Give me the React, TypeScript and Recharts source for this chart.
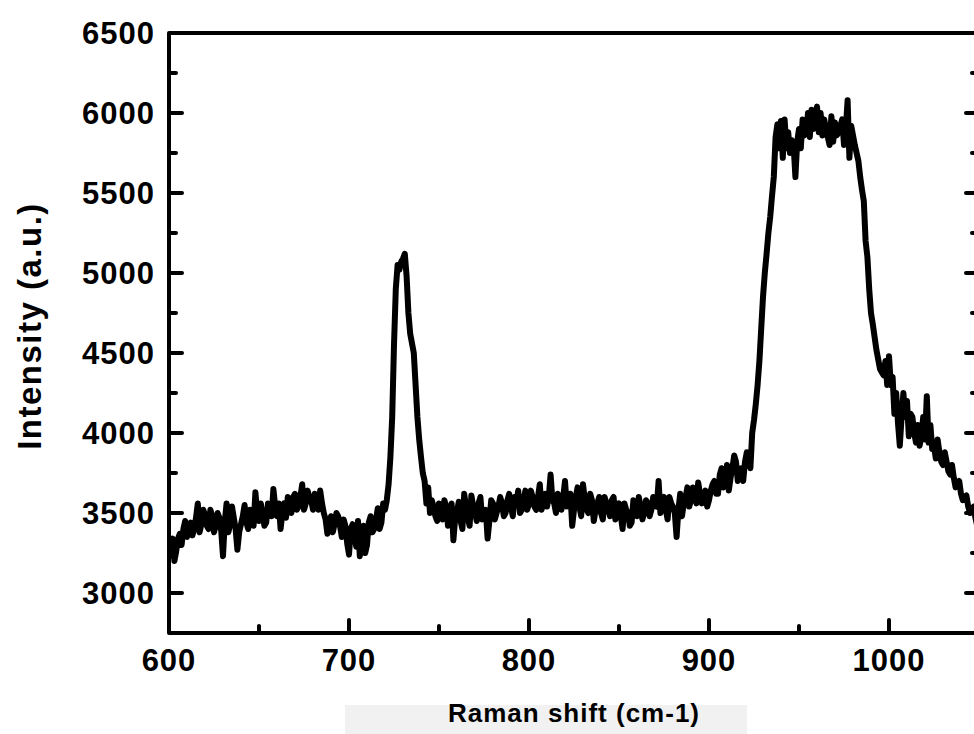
import { Label, Line, LineChart, XAxis, YAxis } from 'recharts';

// Raman spectrum (1 cm-1 steps)
const shift = [
  600, 601, 602, 603, 604, 605, 606, 607, 608, 609,
  610, 611, 612, 613, 614, 615, 616, 617, 618, 619,
  620, 621, 622, 623, 624, 625, 626, 627, 628, 629,
  630, 631, 632, 633, 634, 635, 636, 637, 638, 639,
  640, 641, 642, 643, 644, 645, 646, 647, 648, 649,
  650, 651, 652, 653, 654, 655, 656, 657, 658, 659,
  660, 661, 662, 663, 664, 665, 666, 667, 668, 669,
  670, 671, 672, 673, 674, 675, 676, 677, 678, 679,
  680, 681, 682, 683, 684, 685, 686, 687, 688, 689,
  690, 691, 692, 693, 694, 695, 696, 697, 698, 699,
  700, 701, 702, 703, 704, 705, 706, 707, 708, 709,
  710, 711, 712, 713, 714, 715, 716, 717, 718, 719,
  720, 721, 722, 723, 724, 725, 726, 727, 728, 729,
  730, 731, 732, 733, 734, 735, 736, 737, 738, 739,
  740, 741, 742, 743, 744, 745, 746, 747, 748, 749,
  750, 751, 752, 753, 754, 755, 756, 757, 758, 759,
  760, 761, 762, 763, 764, 765, 766, 767, 768, 769,
  770, 771, 772, 773, 774, 775, 776, 777, 778, 779,
  780, 781, 782, 783, 784, 785, 786, 787, 788, 789,
  790, 791, 792, 793, 794, 795, 796, 797, 798, 799,
  800, 801, 802, 803, 804, 805, 806, 807, 808, 809,
  810, 811, 812, 813, 814, 815, 816, 817, 818, 819,
  820, 821, 822, 823, 824, 825, 826, 827, 828, 829,
  830, 831, 832, 833, 834, 835, 836, 837, 838, 839,
  840, 841, 842, 843, 844, 845, 846, 847, 848, 849,
  850, 851, 852, 853, 854, 855, 856, 857, 858, 859,
  860, 861, 862, 863, 864, 865, 866, 867, 868, 869,
  870, 871, 872, 873, 874, 875, 876, 877, 878, 879,
  880, 881, 882, 883, 884, 885, 886, 887, 888, 889,
  890, 891, 892, 893, 894, 895, 896, 897, 898, 899,
  900, 901, 902, 903, 904, 905, 906, 907, 908, 909,
  910, 911, 912, 913, 914, 915, 916, 917, 918, 919,
  920, 921, 922, 923, 924, 925, 926, 927, 928, 929,
  930, 931, 932, 933, 934, 935, 936, 937, 938, 939,
  940, 941, 942, 943, 944, 945, 946, 947, 948, 949,
  950, 951, 952, 953, 954, 955, 956, 957, 958, 959,
  960, 961, 962, 963, 964, 965, 966, 967, 968, 969,
  970, 971, 972, 973, 974, 975, 976, 977, 978, 979,
  980, 981, 982, 983, 984, 985, 986, 987, 988, 989,
  990, 991, 992, 993, 994, 995, 996, 997, 998, 999,
  1000, 1001, 1002, 1003, 1004, 1005, 1006, 1007, 1008, 1009,
  1010, 1011, 1012, 1013, 1014, 1015, 1016, 1017, 1018, 1019,
  1020, 1021, 1022, 1023, 1024, 1025, 1026, 1027, 1028, 1029,
  1030, 1031, 1032, 1033, 1034, 1035, 1036, 1037, 1038, 1039,
  1040, 1041, 1042, 1043, 1044, 1045, 1046, 1047, 1048, 1049,
  1050,
];

const intensity = [
  3230, 3300, 3340, 3200, 3260, 3340, 3370, 3300, 3400, 3450,
  3350, 3420, 3440, 3360, 3400, 3470, 3560, 3380, 3430, 3520,
  3490, 3420, 3400, 3520, 3480, 3380, 3420, 3500, 3470, 3390,
  3230, 3450, 3560, 3380, 3430, 3540, 3470, 3400, 3270, 3380,
  3430, 3480, 3550, 3440, 3400, 3520, 3460, 3420, 3630, 3500,
  3450, 3560, 3490, 3420, 3440, 3560, 3520, 3480, 3650, 3540,
  3480, 3560, 3400, 3500, 3560, 3470, 3600, 3580, 3500, 3600,
  3620, 3520, 3540, 3600, 3680, 3520, 3560, 3640, 3600, 3580,
  3520, 3620, 3580, 3520, 3640, 3560, 3500, 3460, 3370, 3440,
  3480, 3380, 3430, 3500, 3480, 3420, 3350, 3460, 3420, 3310,
  3240, 3400, 3430, 3360, 3290, 3450, 3230, 3330, 3420, 3250,
  3300, 3440, 3480, 3380, 3400, 3460, 3530, 3400, 3440, 3560,
  3520, 3580, 3680, 3850, 4100, 4550, 4900, 5050, 5020, 5070,
  5090, 5120, 4980, 4750, 4620, 4560, 4500, 4300, 4100, 3960,
  3850, 3750, 3700, 3560, 3660, 3500, 3580, 3540, 3480, 3450,
  3560, 3500, 3460, 3580, 3540, 3420, 3480, 3560, 3330, 3470,
  3510, 3570, 3450, 3400, 3620, 3540, 3470, 3420, 3610, 3540,
  3500, 3450, 3560, 3600, 3460, 3480, 3520, 3340, 3450, 3580,
  3560, 3460, 3500, 3540, 3600, 3560, 3480, 3500, 3580, 3620,
  3540, 3480, 3600, 3560, 3640, 3500, 3520, 3580, 3640, 3520,
  3560, 3640, 3600, 3540, 3520, 3600, 3680, 3520, 3580, 3620,
  3540, 3600, 3740, 3580, 3560, 3500, 3620, 3580, 3520, 3600,
  3700, 3540, 3560, 3620, 3420, 3520, 3600, 3660, 3540, 3480,
  3680, 3580, 3520, 3500, 3620, 3580, 3450, 3520, 3560, 3600,
  3500, 3460, 3600, 3560, 3520, 3480, 3580, 3600, 3460, 3520,
  3560, 3480, 3400, 3560, 3520, 3500, 3420, 3440, 3580, 3540,
  3480, 3600, 3540, 3460, 3500, 3580, 3560, 3480, 3520, 3600,
  3580, 3540, 3700, 3500, 3580, 3600, 3520, 3460, 3600, 3560,
  3540, 3500, 3350, 3520, 3620, 3480, 3560, 3600, 3660, 3540,
  3580, 3660, 3620, 3560, 3690, 3620, 3560, 3600, 3640, 3540,
  3580, 3640, 3680, 3700, 3620, 3620, 3740, 3780, 3660, 3700,
  3800, 3640, 3720, 3780, 3860, 3820, 3700, 3740, 3780, 3700,
  3820, 3880, 3860, 3780, 4000, 4080, 4180, 4300, 4450, 4650,
  4850, 5000, 5120, 5250, 5350, 5480, 5600, 5850, 5930, 5780,
  5950, 5720, 5960, 5780, 5880, 5750, 5830, 5800, 5600, 5820,
  5900, 5780, 5960, 5860, 5880, 6000, 5850, 6020, 5900, 5960,
  6040, 5880, 6000, 5860, 5960, 5900, 5850, 5800, 5980, 5820,
  5940, 5860, 5880, 5920, 5960, 5800, 5900, 6080, 5720, 5920,
  5860, 5800, 5750, 5700, 5600, 5520, 5450, 5200, 5100, 4900,
  4750, 4680, 4600, 4520, 4460, 4400, 4380, 4360, 4450, 4300,
  4480, 4300, 4350, 4120, 4250, 4060, 3920, 4100, 4250, 4100,
  4200, 3980, 4120, 4100, 4000, 3940, 4050, 3920, 3980, 4100,
  3960, 4230, 3940, 4050, 3900, 3920, 3840, 3960, 3880, 3820,
  3800, 3880, 3820, 3760, 3740, 3800, 3720, 3660, 3680, 3700,
  3620, 3580, 3600, 3610, 3540, 3500, 3520, 3540, 3470, 3420,
  3440,
];

const xTicks = [600, 650, 700, 750, 800, 850, 900, 950, 1000, 1050];
const xLabelled = [600, 700, 800, 900, 1000];
const yTicks = [
  3000, 3250, 3500, 3750, 4000, 4250, 4500, 4750, 5000, 5250, 5500, 5750, 6000, 6250, 6500,
];
const yLabelled = [3000, 3500, 4000, 4500, 5000, 5500, 6000, 6500];

const data = shift.map((x, i) => ({ shift: x, intensity: intensity[i] }));

const FONT = '"Liberation Sans", Arial, sans-serif';
const INK = '#000';

const tickMark = (x1: number, y1: number, x2: number, y2: number) => (
  <line x1={x1} y1={y1} x2={x2} y2={y2} stroke={INK} strokeWidth={4} strokeLinecap="round" />
);

function BottomTick({ x, y, payload }: any) {
  const major = xLabelled.includes(payload.value);
  return (
    <g>
      {tickMark(x, y, x, y - (major ? 13 : 7))}
      {major && (
        <text x={x} y={y + 38} textAnchor="middle" fontFamily={FONT} fontWeight="bold" fontSize={31} letterSpacing={1} fill={INK}>
          {payload.value}
        </text>
      )}
    </g>
  );
}

function TopTick({ x, y, payload }: any) {
  const major = xLabelled.includes(payload.value);
  return <g>{tickMark(x, y, x, y + (major ? 13 : 7))}</g>;
}

function LeftTick({ x, y, payload }: any) {
  const major = yLabelled.includes(payload.value);
  return (
    <g>
      {tickMark(x, y, x + (major ? 13 : 7), y)}
      {major && (
        <text x={x - 14} y={y + 11} textAnchor="end" fontFamily={FONT} fontWeight="bold" fontSize={31} letterSpacing={1} fill={INK}>
          {payload.value}
        </text>
      )}
    </g>
  );
}

function RightTick({ x, y, payload }: any) {
  const major = yLabelled.includes(payload.value);
  return <g>{tickMark(x, y, x - (major ? 13 : 7), y)}</g>;
}

export default function App() {
  return (
    <div style={{ position: 'absolute', left: 0, top: 0, width: 974, height: 734, overflow: 'hidden', background: '#fff' }}>
      <div style={{ position: 'absolute', left: 345, top: 705, width: 402, height: 29, background: '#f1f1f1' }} />
      <div style={{ position: 'absolute', left: 0, top: 0 }}>
        <LineChart
          width={1000}
          height={734}
          data={data}
          margin={{ top: 23, right: 11, bottom: 41, left: 69 }}
        >
          <XAxis
            xAxisId="bottom"
            dataKey="shift"
            type="number"
            domain={[600, 1050]}
            ticks={xTicks}
            interval={0}
            height={60}
            tickSize={0}
            tickMargin={0}
            tickLine={false}
            tick={<BottomTick />}
            axisLine={{ stroke: INK, strokeWidth: 4 }}
            allowDataOverflow
          >
            <Label
              value="Raman shift (cm-1)"
              position="bottom"
              offset={11}
              fontFamily={FONT}
              fontWeight="bold"
              fontSize={26}
              letterSpacing={1}
              fill={INK}
            />
          </XAxis>
          <XAxis
            xAxisId="top"
            orientation="top"
            type="number"
            domain={[600, 1050]}
            ticks={xTicks}
            interval={0}
            height={10}
            tickSize={0}
            tickMargin={0}
            tickLine={false}
            tick={<TopTick />}
            axisLine={{ stroke: INK, strokeWidth: 4 }}
            allowDataOverflow
          />
          <YAxis
            yAxisId="left"
            type="number"
            domain={[2750, 6500]}
            ticks={yTicks}
            interval={0}
            width={100}
            tickSize={0}
            tickMargin={0}
            tickLine={false}
            tick={<LeftTick />}
            axisLine={{ stroke: INK, strokeWidth: 4 }}
            allowDataOverflow
          >
            <Label
              content={() => (
                <text
                  x={0}
                  y={0}
                  transform="translate(41 326) rotate(-90)"
                  textAnchor="middle"
                  fontFamily={FONT}
                  fontWeight="bold"
                  fontSize={33}
                  letterSpacing={1.5}
                  fill={INK}
                >
                  Intensity (a.u.)
                </text>
              )}
            />
          </YAxis>
          <YAxis
            yAxisId="right"
            orientation="right"
            type="number"
            domain={[2750, 6500]}
            ticks={yTicks}
            interval={0}
            width={10}
            tickSize={0}
            tickMargin={0}
            tickLine={false}
            tick={<RightTick />}
            axisLine={{ stroke: INK, strokeWidth: 4 }}
            allowDataOverflow
          />
          <Line
            xAxisId="bottom"
            yAxisId="left"
            dataKey="intensity"
            type="linear"
            stroke={INK}
            strokeWidth={6}
            strokeLinejoin="round"
            strokeLinecap="round"
            dot={false}
            activeDot={false}
            isAnimationActive={false}
          />
        </LineChart>
      </div>
    </div>
  );
}
